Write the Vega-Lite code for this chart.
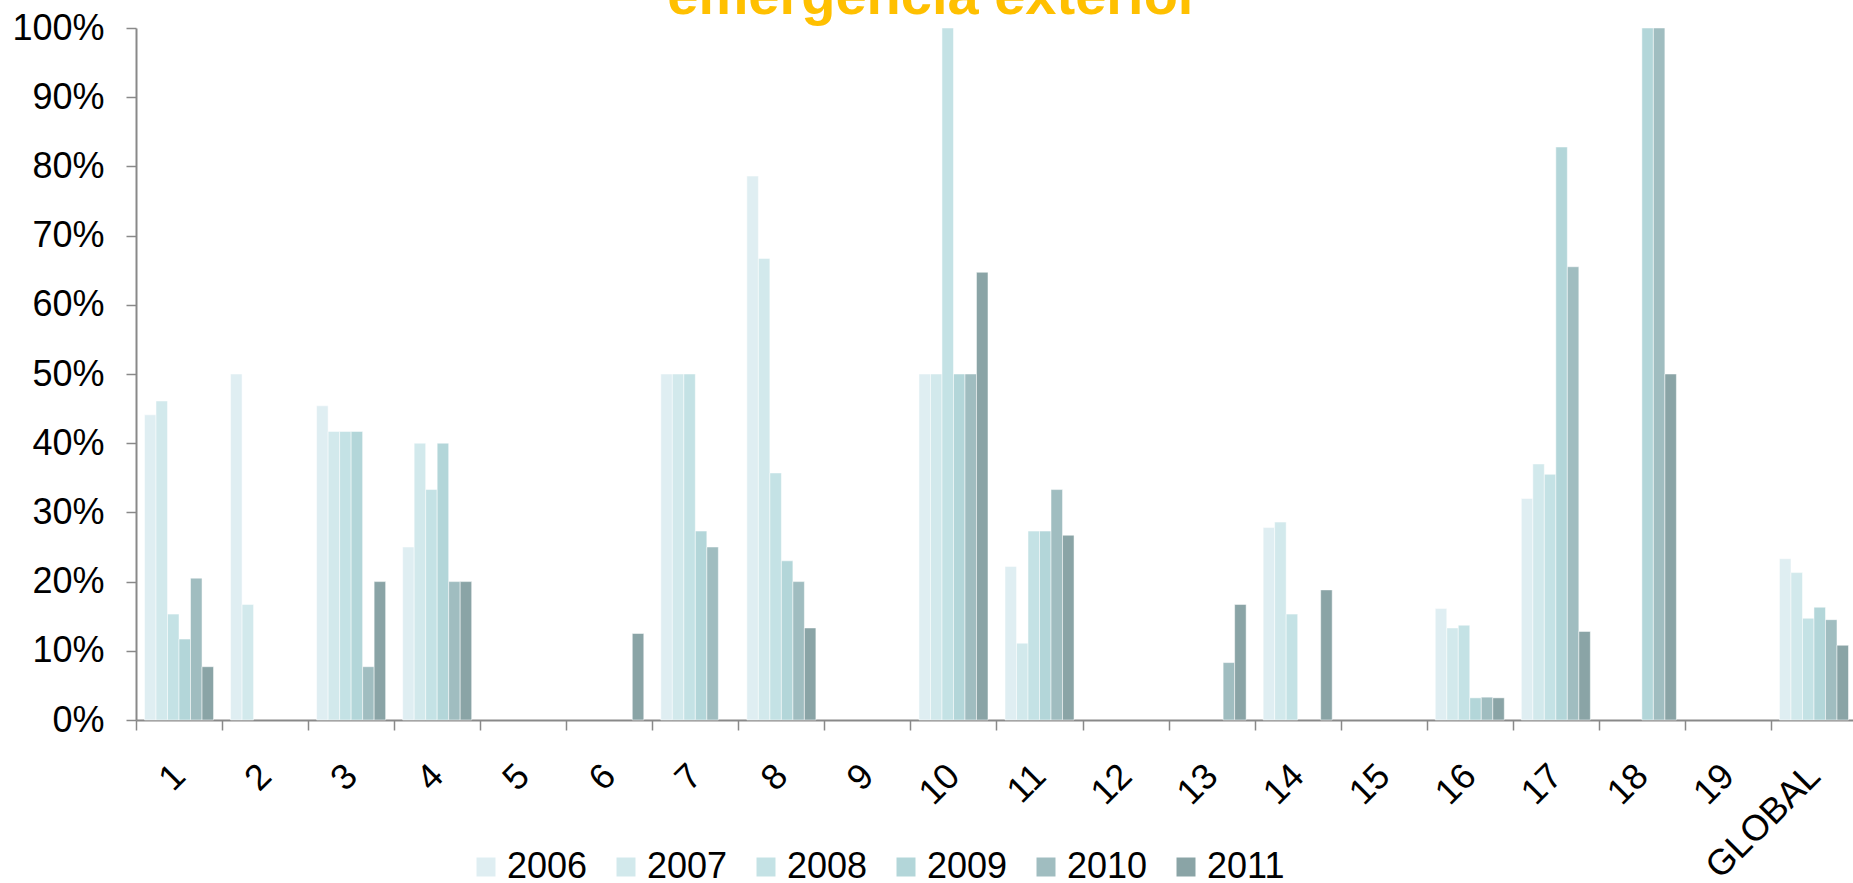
{
  "$schema": "https://vega.github.io/schema/vega-lite/v6.json",
  "autosize": "none",
  "width": 1717,
  "height": 692,
  "padding": {"left": 136, "top": 28, "right": 0, "bottom": 163},
  "background": "white",
  "title": {"text": "emergencia exterior", "color": "#FFC000", "fontSize": 56, "font": "Liberation Sans", "fontWeight": "bold", "anchor": "middle", "frame": "group", "baseline": "alphabetic", "offset": -60, "dx": -61},
  "data": {"values": [
    {"unidad": "1", "anio": "2006", "valor": 0.441},
    {"unidad": "1", "anio": "2007", "valor": 0.461},
    {"unidad": "1", "anio": "2008", "valor": 0.153},
    {"unidad": "1", "anio": "2009", "valor": 0.117},
    {"unidad": "1", "anio": "2010", "valor": 0.205},
    {"unidad": "1", "anio": "2011", "valor": 0.077},
    {"unidad": "2", "anio": "2006", "valor": 0.5},
    {"unidad": "2", "anio": "2007", "valor": 0.167},
    {"unidad": "3", "anio": "2006", "valor": 0.454},
    {"unidad": "3", "anio": "2007", "valor": 0.417},
    {"unidad": "3", "anio": "2008", "valor": 0.417},
    {"unidad": "3", "anio": "2009", "valor": 0.417},
    {"unidad": "3", "anio": "2010", "valor": 0.077},
    {"unidad": "3", "anio": "2011", "valor": 0.2},
    {"unidad": "4", "anio": "2006", "valor": 0.25},
    {"unidad": "4", "anio": "2007", "valor": 0.4},
    {"unidad": "4", "anio": "2008", "valor": 0.333},
    {"unidad": "4", "anio": "2009", "valor": 0.4},
    {"unidad": "4", "anio": "2010", "valor": 0.2},
    {"unidad": "4", "anio": "2011", "valor": 0.2},
    {"unidad": "6", "anio": "2011", "valor": 0.125},
    {"unidad": "7", "anio": "2006", "valor": 0.5},
    {"unidad": "7", "anio": "2007", "valor": 0.5},
    {"unidad": "7", "anio": "2008", "valor": 0.5},
    {"unidad": "7", "anio": "2009", "valor": 0.273},
    {"unidad": "7", "anio": "2010", "valor": 0.25},
    {"unidad": "8", "anio": "2006", "valor": 0.786},
    {"unidad": "8", "anio": "2007", "valor": 0.667},
    {"unidad": "8", "anio": "2008", "valor": 0.357},
    {"unidad": "8", "anio": "2009", "valor": 0.23},
    {"unidad": "8", "anio": "2010", "valor": 0.2},
    {"unidad": "8", "anio": "2011", "valor": 0.133},
    {"unidad": "10", "anio": "2006", "valor": 0.5},
    {"unidad": "10", "anio": "2007", "valor": 0.5},
    {"unidad": "10", "anio": "2008", "valor": 1.0},
    {"unidad": "10", "anio": "2009", "valor": 0.5},
    {"unidad": "10", "anio": "2010", "valor": 0.5},
    {"unidad": "10", "anio": "2011", "valor": 0.647},
    {"unidad": "11", "anio": "2006", "valor": 0.222},
    {"unidad": "11", "anio": "2007", "valor": 0.111},
    {"unidad": "11", "anio": "2008", "valor": 0.273},
    {"unidad": "11", "anio": "2009", "valor": 0.273},
    {"unidad": "11", "anio": "2010", "valor": 0.333},
    {"unidad": "11", "anio": "2011", "valor": 0.267},
    {"unidad": "13", "anio": "2010", "valor": 0.083},
    {"unidad": "13", "anio": "2011", "valor": 0.167},
    {"unidad": "14", "anio": "2006", "valor": 0.278},
    {"unidad": "14", "anio": "2007", "valor": 0.286},
    {"unidad": "14", "anio": "2008", "valor": 0.153},
    {"unidad": "14", "anio": "2011", "valor": 0.188},
    {"unidad": "16", "anio": "2006", "valor": 0.161},
    {"unidad": "16", "anio": "2007", "valor": 0.133},
    {"unidad": "16", "anio": "2008", "valor": 0.137},
    {"unidad": "16", "anio": "2009", "valor": 0.032},
    {"unidad": "16", "anio": "2010", "valor": 0.033},
    {"unidad": "16", "anio": "2011", "valor": 0.032},
    {"unidad": "17", "anio": "2006", "valor": 0.32},
    {"unidad": "17", "anio": "2007", "valor": 0.37},
    {"unidad": "17", "anio": "2008", "valor": 0.355},
    {"unidad": "17", "anio": "2009", "valor": 0.828},
    {"unidad": "17", "anio": "2010", "valor": 0.655},
    {"unidad": "17", "anio": "2011", "valor": 0.128},
    {"unidad": "18", "anio": "2009", "valor": 1.0},
    {"unidad": "18", "anio": "2010", "valor": 1.0},
    {"unidad": "18", "anio": "2011", "valor": 0.5},
    {"unidad": "GLOBAL", "anio": "2006", "valor": 0.233},
    {"unidad": "GLOBAL", "anio": "2007", "valor": 0.213},
    {"unidad": "GLOBAL", "anio": "2008", "valor": 0.147},
    {"unidad": "GLOBAL", "anio": "2009", "valor": 0.163},
    {"unidad": "GLOBAL", "anio": "2010", "valor": 0.145},
    {"unidad": "GLOBAL", "anio": "2011", "valor": 0.108}
  ]},
  "mark": {"type": "bar", "stroke": "white", "strokeWidth": 0.5},
  "encoding": {
    "x": {
      "field": "unidad", "type": "nominal",
      "scale": {"domain": ["1","2","3","4","5","6","7","8","9","10","11","12","13","14","15","16","17","18","19","GLOBAL"], "range": [0, 1721], "paddingInner": 0, "paddingOuter": 0},
      "axis": {"title": null, "tickBand": "extent", "labelAngle": -45, "labelAlign": "right", "labelBaseline": "middle", "labelFontSize": 36, "labelFont": "Liberation Sans", "labelColor": "black", "tickSize": 10, "labelPadding": 40, "domainColor": "#898989", "tickColor": "#898989", "domainWidth": 2, "tickWidth": 1.5, "labelOverlap": false, "labelBound": false, "labelFlush": false}
    },
    "xOffset": {"field": "anio", "type": "nominal", "scale": {"domain": ["2006","2007","2008","2009","2010","2011"], "paddingInner": 0, "paddingOuter": 0.74}},
    "y": {
      "field": "valor", "type": "quantitative",
      "scale": {"domain": [0, 1], "nice": false},
      "axis": {"title": null, "format": ".0%", "values": [0, 0.1, 0.2, 0.3, 0.4, 0.5, 0.6, 0.7, 0.8, 0.9, 1.0], "grid": false, "labelFontSize": 36, "labelFont": "Liberation Sans", "labelColor": "black", "tickSize": 10, "labelPadding": 22, "domainColor": "#898989", "tickColor": "#898989", "domainWidth": 2, "tickWidth": 1.5}
    },
    "color": {
      "field": "anio", "type": "nominal",
      "scale": {"domain": ["2006","2007","2008","2009","2010","2011"], "range": ["#DFEEF2", "#D2E9EC", "#C4E2E5", "#B3D6D9", "#A0BDC0", "#8AA4A6"]},
      "legend": {"orient": "none", "legendX": 332, "legendY": 821, "direction": "horizontal", "title": null, "symbolType": "square", "symbolSize": 361, "symbolStrokeWidth": 0, "labelFontSize": 36, "labelFont": "Liberation Sans", "labelColor": "black", "columnPadding": 20, "labelOffset": 3, "padding": 0}
    }
  },
  "config": {"view": {"stroke": null}}
}
